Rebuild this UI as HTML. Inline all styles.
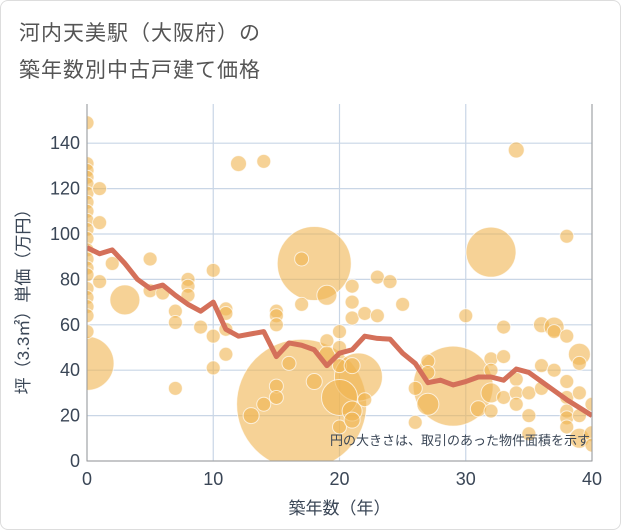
<!DOCTYPE html>
<html><head><meta charset="utf-8"><style>
body{margin:0;background:#fff;}
#card{position:relative;width:619px;height:528px;border:1px solid #ddd;border-radius:8px;overflow:hidden;background:#fff;font-family:"Liberation Sans","Noto Sans CJK JP",sans-serif;}
.t{position:absolute;left:18px;font-size:21px;color:#555;letter-spacing:1px;}
</style></head><body>
<div id="card">
<div class="t" style="top:16px">河内天美駅（大阪府）の</div>
<div class="t" style="top:53px">築年数別中古戸建て価格</div>
<svg id="chart" width="621" height="530" style="position:absolute;left:0;top:0"></svg>
</div>
<script>
const years=[0,1,2,3,4,5,6,7,8,9,10,11,12,13,14,15,16,17,18,19,20,21,22,23,24,25,26,27,28,29,30,31,32,33,34,35,36,37,38,39,40];
const avgPrice=[94,91.3,93,87,80,76,77.5,73,69,66,70,58,55,56,57,46,52,51,49,42,47.5,49,55,54,53.7,47.5,43,34.5,35.6,33.5,35,37,37,35.6,40.5,39,35,31,27,23.5,20];
const bubbleYear=[17,18,32,29,0,21.5,20,3,0,0,0,0,0,0,0,0,0,0,0,0,0,0,0,0,0,0,0,0,1,1,1,2,5,5,6,7,7,7,8,8,8,9,10,10,10,11,11,11,11,12,14,13,14,15,15,15,15,15,16,17,17,18,19,19,19,20,20,20,20,21,21,21,21,21,21,22,22,23,23,24,25,26,26,27,27,27,30,31,32,32,32,32,33,33,33,34,34,34,34,35,35,35,36,36,36,37,37,37,38,38,38,38,38,38,38,39,39,39,39,39,40,40,40];
const bubbleValue=[25,87,92,33,43,37,28,71,149,131,128,125,122,118,114,110,106,102,98,93,89,85,82,76,72,68,64,57,120,105,79,87,89,75,74,66,61,32,80,77,73,59,84,55,41,67,65,58,47,131,132,20,25,66,64,60,33,28,43,89,69,35,73,53,47,57,50,42,15,77,70,63,42,22,18,65,27,81,64,79,69,17,32,44,25,39,64,23,45,40,30,22,59,46,28,137,36,30,25,30,20,12,60,42,32,59,57,40,99,55,35,28,22,19,15,47,43,30,20,10,25,12,7];
const bubbleSize=[65,37,25,40,27,24,18,15,7,7,7,7,7,7,7,7,7,7,7,7,7,7,7,7,7,7,7,7,7,7,7,7,7,7,7,7,7,7,7,7,7,7,7,7,7,7,7,7,7,8,7,8,7,7,7,7,7,7,7,7,7,8,10,7,8,7,7,7,7,7,7,7,8,10,8,7,7,7,7,7,7,7,7,7,11,7,7,8,7,7,10,7,7,7,7,8,7,7,7,7,7,7,8,7,7,10,7,7,7,7,7,7,7,7,7,11,7,7,7,10,7,8,7];
const xTicks=[0,10,20,30,40];
const yTicks=[0,20,40,60,80,100,120,140];
const L=86,R=591,T=103,B=460;
const sx=v=>L+(v/40)*(R-L);
const sy=v=>B-v*2.27;
const svg=document.getElementById('chart');
const NS='http://www.w3.org/2000/svg';
function mk(tag,attrs,parent){const e=document.createElementNS(NS,tag);for(const k in attrs)e.setAttribute(k,attrs[k]);(parent||svg).appendChild(e);return e;}
const defs=mk('defs',{});const cp=mk('clipPath',{id:'pc'},defs);mk('rect',{x:L,y:T,width:R-L,height:B-T},cp);
yTicks.forEach(v=>{const l=mk('line',{x1:L,x2:R,y1:sy(v),y2:sy(v),stroke:'#c9d6e6','stroke-width':1.2});


const t=mk('text',{x:L-7,y:sy(v)+6,'text-anchor':'end','font-size':18,fill:'#3a4656'});t.textContent=v;

});
xTicks.forEach(v=>{const l=mk('line',{x1:sx(v),x2:sx(v),y1:T,y2:B,stroke:'#c9d6e6','stroke-width':1.2});


const t=mk('text',{x:sx(v),y:B+24,'text-anchor':'middle','font-size':18,fill:'#3a4656'});t.textContent=v;

});
const g=mk('g',{'clip-path':'url(#pc)'});


bubbleYear.forEach((yr,i)=>{const c=mk('circle',{cx:sx(yr),cy:sy(bubbleValue[i]),r:bubbleSize[i],fill:'#f0b450','fill-opacity':0.6,stroke:'#fff','stroke-opacity':0.7,'stroke-width':1},g);

});
const p=mk('polyline',{points:years.map((y,i)=>sx(y)+','+sy(avgPrice[i])).join(' '),fill:'none',stroke:'#d4705a','stroke-width':5,'stroke-linejoin':'round'},g);


const ax=mk('path',{d:`M${L},${T}V${B}H${R}V${T}`,fill:'none',stroke:'#999','stroke-width':1});


const note=mk('text',{x:R-2,y:444,'text-anchor':'end','font-size':13,fill:'#3a4656'});note.textContent='円の大きさは、取引のあった物件面積を示す';


const xt=mk('text',{x:(L+R)/2,y:513,'text-anchor':'middle','font-size':17,fill:'#3a4656'});xt.textContent='築年数（年）';


const yt=mk('text',{x:0,y:0,'text-anchor':'middle','font-size':17,fill:'#3a4656',transform:`translate(28,${(T+B)/2+15}) rotate(-90)`});yt.textContent='坪（3.3㎡）単価（万円）';


</script>
</body></html>
